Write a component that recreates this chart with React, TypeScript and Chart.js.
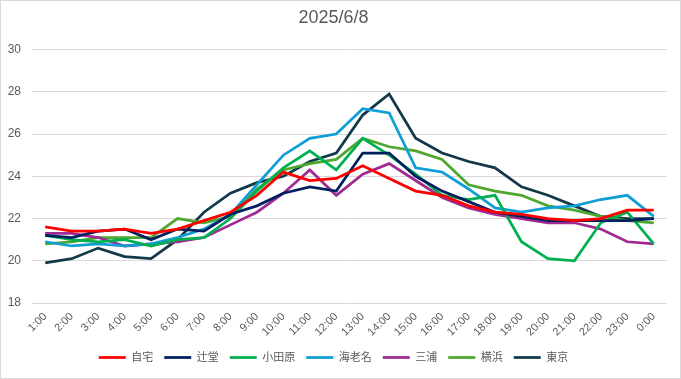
import React, { useEffect, useRef } from "react";
import { Chart, registerables } from "chart.js";

Chart.register(...registerables);

const title = "2025/6/8";
const hours = ["1:00","2:00","3:00","4:00","5:00","6:00","7:00","8:00","9:00","10:00","11:00","12:00","13:00","14:00","15:00","16:00","17:00","18:00","19:00","20:00","21:00","22:00","23:00","0:00"];

const jitaku = [21.6, 21.4, 21.4, 21.5, 21.3, 21.5, 21.9, 22.3, 23.1, 24.2, 23.8, 23.9, 24.5, 23.9, 23.3, 23.1, 22.6, 22.3, 22.2, 22.0, 21.9, 22.0, 22.4, 22.4];
const tsujido = [21.2, 21.1, 21.4, 21.5, 21.0, 21.5, 21.4, 22.2, 22.6, 23.2, 23.5, 23.3, 25.1, 25.1, 24.0, 23.3, 22.8, 22.3, 22.1, 21.9, 21.9, 21.9, 21.9, 22.0];
const odawara = [21.2, 21.0, 20.9, 21.0, 20.7, 21.0, 21.1, 22.0, 23.3, 24.4, 25.2, 24.3, 25.8, 25.0, 24.1, 23.1, 22.9, 23.1, 20.9, 20.1, 20.0, 21.8, 22.3, 20.8];
const ebina = [20.9, 20.7, 20.8, 20.7, 20.8, 21.1, 21.5, 22.2, 23.6, 25.0, 25.8, 26.0, 27.2, 27.0, 24.4, 24.2, 23.4, 22.5, 22.3, 22.5, 22.6, 22.9, 23.1, 22.1];
const miura = [21.3, 21.3, 21.1, 20.7, 20.8, 20.9, 21.1, 21.7, 22.3, 23.2, 24.3, 23.1, 24.1, 24.6, 23.8, 23.0, 22.5, 22.2, 22.0, 21.8, 21.8, 21.5, 20.9, 20.8];
const yokohama = [20.8, 20.9, 21.1, 21.1, 21.1, 22.0, 21.8, 22.1, 23.4, 24.3, 24.6, 24.8, 25.8, 25.4, 25.2, 24.8, 23.6, 23.3, 23.1, 22.6, 22.4, 22.1, 21.9, 21.8];
const tokyo = [19.9, 20.1, 20.6, 20.2, 20.1, 21.0, 22.3, 23.2, 23.7, 24.0, 24.7, 25.1, 26.9, 27.9, 25.8, 25.1, 24.7, 24.4, 23.5, 23.1, 22.6, 22.1, 22.0, 22.0];

const seriesNames = ["自宅", "辻堂", "小田原", "海老名", "三浦", "横浜", "東京"];
const seriesData = [jitaku, tsujido, odawara, ebina, miura, yokohama, tokyo];
const seriesColors = ["#FF0000", "#002060", "#00B050", "#0F9ED5", "#A02B93", "#4EA72E", "#12394A"];

const yMin = 18;
const yMax = 30;
const yStep = 2;

const FONT = "'Liberation Sans', 'Noto Sans CJK JP', sans-serif";
const TEXT = "#595959";
const GRID = "#D9D9D9";

export default function App() {
  const ref = useRef<HTMLCanvasElement | null>(null);
  useEffect(() => {
    document.body.style.margin = "0";
    const canvas = ref.current;
    if (!canvas) return;
    const borderPlugin = {
      id: "outerBorder",
      afterDraw(chart: any) {
        const ctx = chart.ctx;
        ctx.save();
        ctx.strokeStyle = GRID;
        ctx.lineWidth = 1;
        ctx.strokeRect(0.5, 0.5, chart.width - 1, chart.height - 1);
        ctx.restore();
      },
    };
    const chart = new Chart(canvas, {
      type: "line",
      data: {
        labels: hours,
        datasets: seriesNames.map((n, i) => ({
          label: n,
          data: seriesData[i],
          borderColor: seriesColors[i],
          backgroundColor: seriesColors[i],
          borderWidth: 2.75,
          pointRadius: 0,
          pointHoverRadius: 0,
          tension: 0,
          fill: false,
        })),
      },
      options: {
        animation: false,
        responsive: false,
        maintainAspectRatio: false,
        layout: { padding: { left: 0, right: 14, top: 0, bottom: 6 } },
        plugins: {
          title: {
            display: true,
            text: title,
            color: TEXT,
            font: { family: FONT, size: 18, weight: "normal" },
            padding: { top: 7, bottom: 21 },
          },
          legend: {
            position: "bottom",
            labels: {
              usePointStyle: true,
              pointStyle: "line",
              pointStyleWidth: 27,
              color: TEXT,
              font: { family: FONT, size: 11 },
              padding: 11,
            },
          },
          tooltip: { enabled: false },
        },
        scales: {
          x: {
            offset: true,
            grid: { display: false, drawTicks: false },
            border: { display: false },
            ticks: {
              color: TEXT,
              font: { family: FONT, size: 11 },
              maxRotation: 45,
              minRotation: 45,
              autoSkip: false,
              padding: 7,
            },
            afterFit(scale: any) {
              scale.height = 38;
            },
          },
          y: {
            min: yMin,
            max: yMax,
            grid: { color: GRID, drawTicks: false, lineWidth: 1 },
            border: { display: false },
            ticks: {
              stepSize: yStep,
              color: TEXT,
              font: { family: FONT, size: 12 },
              padding: 11,
            },
            afterFit(scale: any) {
              scale.width = 32;
            },
          },
        },
      },
      plugins: [borderPlugin],
    });
    return () => chart.destroy();
  }, []);
  return (
    <div style={{ position: "fixed", left: 0, top: 0, width: 681, height: 379, background: "#fff" }}>
      <canvas ref={ref} width={681} height={379} style={{ width: 681, height: 379, display: "block" }} />
    </div>
  );
}
